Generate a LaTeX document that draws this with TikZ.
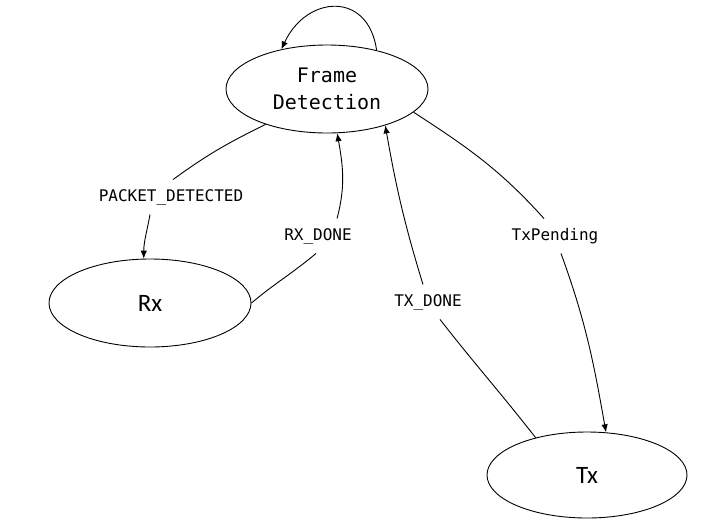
\documentclass[tikz,border=0pt]{standalone}
\usepackage{fontspec}
\newfontfamily\monofont{DejaVu Sans Mono}
\newfontfamily\calfont{Carlito}
\usetikzlibrary{arrows.meta,shapes.geometric}

\begin{document}
\begin{tikzpicture}[x=1pt, y=1pt, line width=0.9pt, >={Latex[length=8pt,width=6.5pt]}]
	\tikzstyle{stateNode} = [ellipse, draw, minimum width=202pt, minimum height=88pt, inner sep=0pt]
	\tikzstyle{edgeLabel} = [font=\monofont\fontsize{16}{16}\selectfont, inner sep=0pt, text height=12pt, text depth=4pt, minimum height=34pt]
	\useasboundingbox (0,0) rectangle (718,-528);

	\node[stateNode, font=\monofont\fontsize{20}{27}\selectfont, align=center] (fd) at (327,-89) {Frame\\Detection};
	\node[stateNode, font=\calfont\fontsize{25}{25}\selectfont] (rx) at (150,-303) {Rx};
	\node[stateNode, minimum width=200pt, minimum height=86pt, font=\calfont\fontsize{25}{25}\selectfont] (tx) at (587,-475) {Tx};

	\node[edgeLabel] (lblPacket) at (171,-197) {PACKET\_DETECTED};
	\node[edgeLabel] (lblRxDone) at (318,-236) {RX\_DONE};
	\node[edgeLabel] (lblTxDone) at (428,-302) {TX\_DONE};
	\node[edgeLabel] (lblTxPending) at (555,-236) {TxPending};

	% self loop
	\draw[->] (fd.38) .. controls +(98:60) and +(65:60) .. (fd.139);
	\draw[->] (fd.210) to[out=206, in=36] ([xshift=2pt]lblPacket.north)
		([xshift=-21pt]lblPacket.south) to[out=-100, in=90] (rx.98);
	\draw[->] (rx.0) to[out=40, in=220] ([xshift=-2pt]lblRxDone.south)
		([xshift=19pt]lblRxDone.north) to[out=75, in=-80] (fd.283);
	\draw[->] (tx.144) to[out=128, in=-52] ([xshift=12pt]lblTxDone.south)
		([xshift=-5pt]lblTxDone.north) to[out=107, in=-80] (fd.328);
	\draw[->] (fd.345) to[out=-33, in=132] ([xshift=-11pt]lblTxPending.north)
		([xshift=6pt]lblTxPending.south) to[out=-70, in=100] (tx.66);
\end{tikzpicture}
\end{document}
